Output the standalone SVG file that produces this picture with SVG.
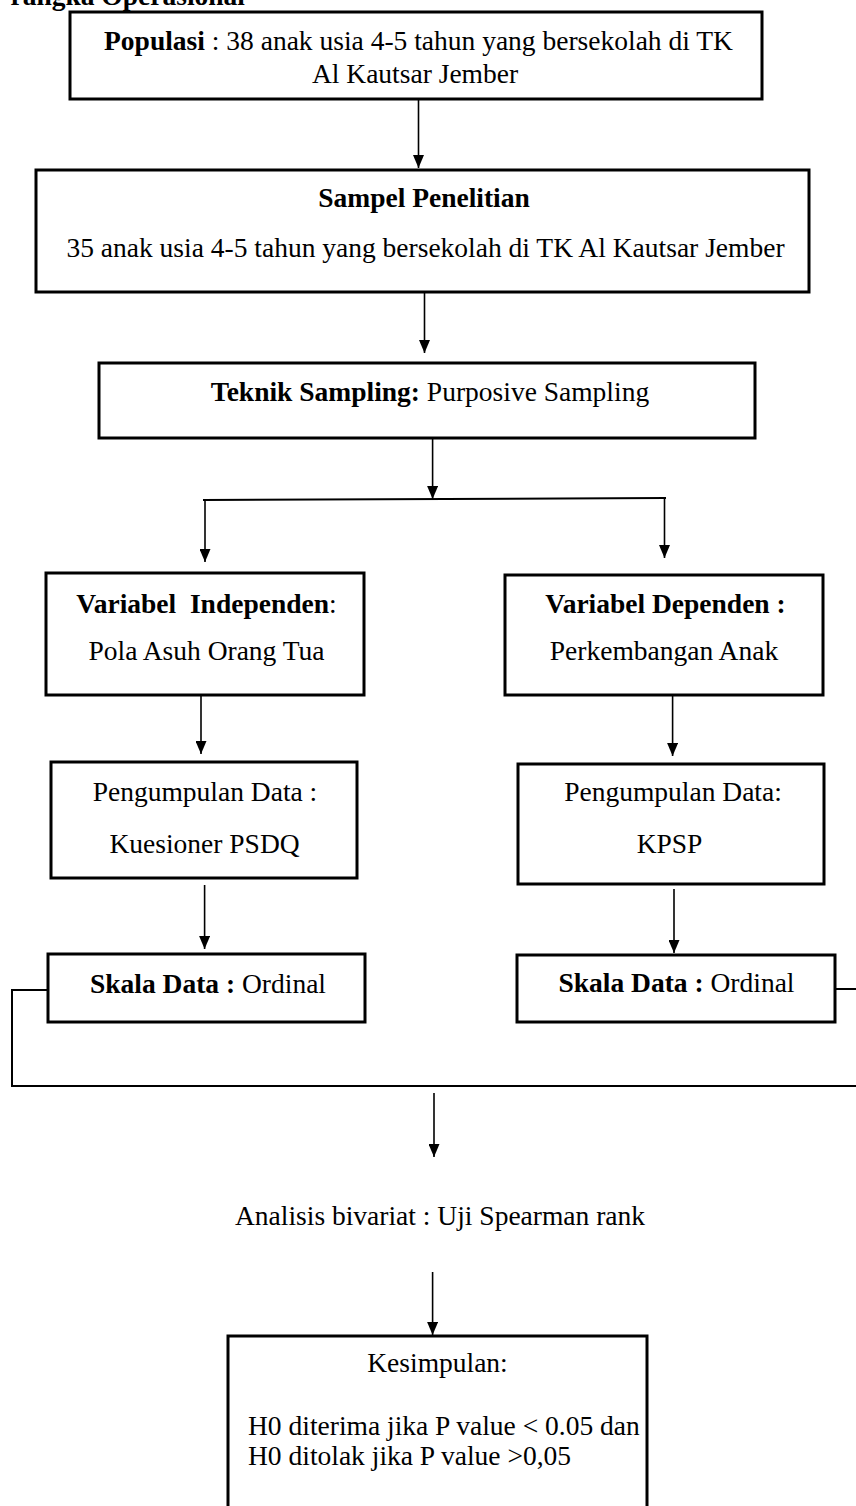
<svg xmlns="http://www.w3.org/2000/svg" width="856" height="1506" viewBox="0 0 856 1506">
<defs>
<marker id="ah" markerUnits="userSpaceOnUse" markerWidth="13" markerHeight="11" refX="13" refY="5.5" orient="auto">
<path d="M0,0 L13,5.5 L0,11 z" fill="#000"/>
</marker>
<style>
.box{fill:#fff;stroke:#000;stroke-width:3}
.t{font-family:"Liberation Serif","Times New Roman",serif;font-size:27.5px;fill:#000}
.m{text-anchor:middle}
.b{font-weight:bold}
.ar{stroke:#000;stroke-width:1.6;fill:none;marker-end:url(#ah)}
.ln{stroke:#000;stroke-width:2;fill:none}
</style>
</defs>
<rect width="856" height="1506" fill="#fff"/>
<text class="t b" x="245" y="5" text-anchor="end">rangka Operasional</text>

<g id="connectors">
<line class="ar" x1="418.5" y1="100" x2="418.5" y2="168"/>
<line class="ar" x1="424.5" y1="293" x2="424.5" y2="353"/>
<line class="ar" x1="432.6" y1="439" x2="432.6" y2="499"/>
<line class="ln" x1="203" y1="500" x2="666" y2="498"/>
<line class="ar" x1="205" y1="500" x2="205" y2="562"/>
<line class="ar" x1="664.5" y1="498" x2="664.5" y2="558"/>
<line class="ar" x1="201" y1="696" x2="201" y2="754"/>
<line class="ar" x1="672.6" y1="696" x2="672.6" y2="756"/>
<line class="ar" x1="204.6" y1="885" x2="204.6" y2="949"/>
<line class="ar" x1="674" y1="889" x2="674" y2="953"/>
<polyline class="ln" points="48,990 12,990 12,1086 856,1086"/>
<line class="ln" x1="835" y1="989" x2="856" y2="989"/>
<line class="ar" x1="434" y1="1093" x2="434" y2="1157"/>
<line class="ar" x1="432.6" y1="1272" x2="432.6" y2="1335"/>
</g>

<g id="populasi">
<rect class="box" x="70" y="12" width="692" height="87"/>
<text class="t m" x="418.5" y="50"><tspan class="b">Populasi</tspan> : 38 anak usia 4-5 tahun yang bersekolah di TK</text>
<text class="t m" x="415" y="83">Al Kautsar Jember</text>
</g>

<g id="sampel">
<rect class="box" x="36" y="170" width="773" height="122"/>
<text class="t m b" x="424" y="207">Sampel Penelitian</text>
<text class="t m" x="425.5" y="257">35 anak usia 4-5 tahun yang bersekolah di TK Al Kautsar Jember</text>
</g>

<g id="teknik">
<rect class="box" x="99" y="363" width="656" height="75"/>
<text class="t m" x="430" y="401"><tspan class="b">Teknik Sampling:</tspan> Purposive Sampling</text>
</g>

<g id="var-independen">
<rect class="box" x="46" y="573" width="318" height="122"/>
<text class="t m" x="206.5" y="613" xml:space="preserve"><tspan class="b">Variabel  Independen</tspan>:</text>
<text class="t m" x="206.5" y="660">Pola Asuh Orang Tua</text>
</g>

<g id="var-dependen">
<rect class="box" x="505" y="575" width="318" height="120"/>
<text class="t m b" x="665.5" y="613">Variabel Dependen :</text>
<text class="t m" x="664" y="660">Perkembangan Anak</text>
</g>

<g id="pengumpulan-kiri">
<rect class="box" x="51" y="762" width="306" height="116"/>
<text class="t m" x="205" y="801">Pengumpulan Data :</text>
<text class="t m" x="204.5" y="853">Kuesioner PSDQ</text>
</g>

<g id="pengumpulan-kanan">
<rect class="box" x="518" y="764" width="306" height="120"/>
<text class="t m" x="673" y="801">Pengumpulan Data:</text>
<text class="t m" x="669.5" y="853">KPSP</text>
</g>

<g id="skala-kiri">
<rect class="box" x="48" y="954" width="317" height="68"/>
<text class="t m" x="208" y="993"><tspan class="b">Skala Data :</tspan> Ordinal</text>
</g>

<g id="skala-kanan">
<rect class="box" x="517" y="955" width="318" height="67"/>
<text class="t m" x="676.5" y="992"><tspan class="b">Skala Data :</tspan> Ordinal</text>
</g>

<g id="analisis">
<text class="t m" x="440" y="1225">Analisis bivariat : Uji Spearman rank</text>
</g>

<g id="kesimpulan">
<rect class="box" x="228" y="1336" width="419" height="200"/>
<text class="t m" x="437.5" y="1372">Kesimpulan:</text>
<text class="t" x="248" y="1435">H0 diterima jika P value &lt; 0.05 dan</text>
<text class="t" x="248" y="1465">H0 ditolak jika P value &gt;0,05</text>
</g>
</svg>
